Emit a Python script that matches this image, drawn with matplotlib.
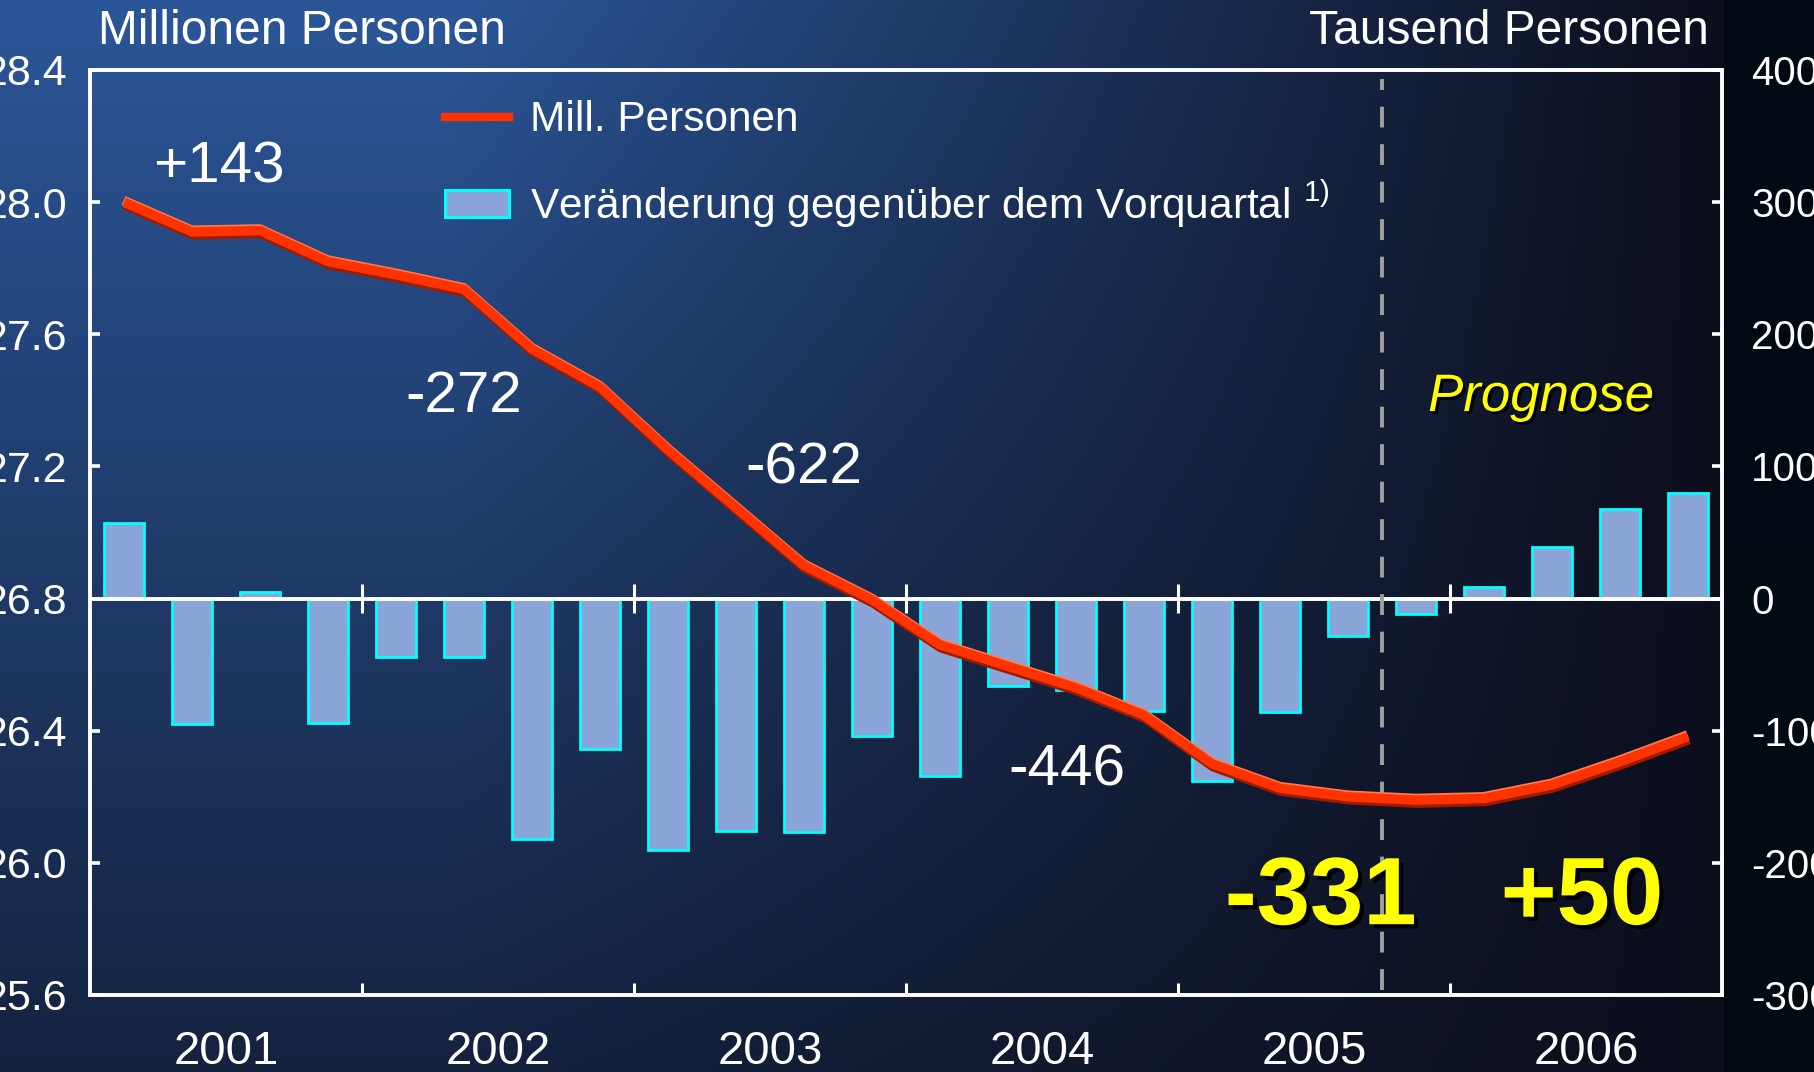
import numpy as np
import matplotlib
matplotlib.use("Agg")
import matplotlib.pyplot as plt
import matplotlib.patheffects as pe
from matplotlib.lines import Line2D
from matplotlib.patches import Patch
from matplotlib.ticker import MultipleLocator, FormatStrFormatter, FixedLocator

plt.rcParams['font.family'] = ['Liberation Sans', 'DejaVu Sans']
plt.rcParams['axes.unicode_minus'] = False
plt.rcParams['mathtext.fontset'] = 'custom'
plt.rcParams['mathtext.rm'] = 'Liberation Sans'
plt.rcParams['mathtext.it'] = 'Liberation Sans:italic'
plt.rcParams['lines.scale_dashes'] = False

# ---------------- data ----------------
years = ["2001", "2002", "2003", "2004", "2005", "2006"]
quarters_per_year = 4
# employed persons, millions (left axis)
persons_mill = [28.00, 27.91, 27.914, 27.82, 27.78, 27.736,
                27.555, 27.44, 27.25, 27.075, 26.90, 26.796,
                26.66, 26.595, 26.53, 26.447, 26.30, 26.226,
                26.20, 26.19, 26.195, 26.236, 26.306, 26.382]
# change vs previous quarter, thousand persons (right axis)
change_tsd = [57, -95, 5, -94, -44, -44,
              -182, -114, -190, -176, -177, -104,
              -134, -66, -69, -85, -138, -86,
              -28, -12, 9, 39, 68, 80]
forecast_start = 19  # quarter index where forecast begins
annual_labels = ["+143", "-272", "-622", "-446"]
annual_x = [1.90, 5.50, 10.49, 14.37]
annual_y = [28.104, 27.411, 27.193, 26.279]
forecast_labels = ["-331", "+50"]
forecast_x = [18.10, 21.94]
forecast_y = [25.89, 25.89]
legend_labels = ["Mill. Personen",
                 "Veränderung gegenüber dem Vorquartal $^{\\mathrm{1)}}$"]

n_q = len(change_tsd)
xq = np.arange(n_q) + 0.5

# ---------------- figure ----------------
W, H = 1814, 1072
fig = plt.figure(figsize=(W / 100, H / 100), dpi=100)

# background gradient
bg = fig.add_axes([0, 0, 1, 1], zorder=-10)
yy, xx = np.mgrid[0:H, 0:W]
fx = np.clip(1 - (xx - 450) / 1270.0, 0.0, 1.0)
fy = 1 - 0.72 * (yy / H)
f = fx * fy
light = np.array([43, 86, 152], float)
dark = np.array([12, 14, 28], float)
img = dark + (light - dark) * f[..., None]
strip_top = np.array([1, 10, 20], float)
strip_bot = np.array([3, 10, 18], float)
tt = (yy[:, 1724:] / H)[..., None]
img[:, 1724:] = strip_top + (strip_bot - strip_top) * tt
bg.imshow(img / 255.0, extent=[0, 1, 0, 1], aspect='auto', origin='upper')
bg.set_xlim(0, 1); bg.set_ylim(0, 1)
bg.axis('off')

L, R, T, B = 90, 1722, 70, 995
ax = fig.add_axes([L / W, 1 - B / H, (R - L) / W, (B - T) / H])
ax2 = ax.twinx()
ax.set_zorder(2)
ax2.set_zorder(1)
ax.patch.set_visible(False)
ax2.patch.set_visible(False)

# bars
ax2.bar(xq, change_tsd, width=0.6, color='#8CA5D8', edgecolor='#00FFFF',
        linewidth=2.0, zorder=2)
ax2.axhline(0, color='white', lw=2.8, zorder=3)
year_bounds = np.arange(quarters_per_year, n_q, quarters_per_year)
ax2.vlines(year_bounds, -11, 11, color='white', lw=2.2, zorder=3)
ax2.set_ylim(-300, 400)

# line
ax.plot(xq, persons_mill, color='#FF3300', lw=6.8, solid_capstyle='butt',
        solid_joinstyle='round', zorder=4,
        path_effects=[pe.SimpleLineShadow(offset=(0.8, -2.2), shadow_color='#A01A00', alpha=1),
                      pe.SimpleLineShadow(offset=(-0.3, 1.2), shadow_color='#FF7A55', alpha=1),
                      pe.Normal()])
ax.set_ylim(25.6, 28.4)
ax.set_xlim(0, n_q)

# forecast divider
ax.axvline(forecast_start, ymin=0.005, ymax=0.99, color='#A0A0A0', lw=2.8,
           dashes=(15, 12), zorder=3)

# spines
for a in (ax, ax2):
    for s in a.spines.values():
        s.set_color('white')
        s.set_linewidth(2.6)

# ticks
ax.yaxis.set_major_locator(MultipleLocator(0.4))
ax.yaxis.set_major_formatter(FormatStrFormatter('%.1f'))
ax.tick_params(axis='y', direction='in', length=7, width=2.6, colors='white',
               labelsize=31, pad=16)
ax2.yaxis.set_major_locator(MultipleLocator(100))
ax2.yaxis.set_major_formatter(FormatStrFormatter('%d'))
ax2.tick_params(axis='y', direction='in', length=7, width=2.6, colors='white',
                labelsize=29, pad=21)

year_centers = np.arange(n_q // quarters_per_year) * quarters_per_year + quarters_per_year / 2
ax.xaxis.set_major_locator(FixedLocator(year_bounds))
ax.set_xticks(year_centers, minor=True)
ax.set_xticklabels(years, minor=True)
ax.tick_params(axis='x', which='major', direction='in', length=9, width=2.2,
               colors='white', labelbottom=False)
ax.tick_params(axis='x', which='minor', length=0, colors='white',
               labelsize=34, pad=25)

# texts
fig.text(98 / W, 1 - 31 / H, "Millionen Personen", color='white', fontsize=34.5,
         ha='left', va='center')
fig.text(1709 / W, 1 - 31 / H, "Tausend Personen", color='white', fontsize=34.5,
         ha='right', va='center')

for lab, x, y in zip(annual_labels, annual_x, annual_y):
    ax.text(x, y, lab, color='white', fontsize=42, ha='center', va='center', zorder=5)

shadow = [pe.withSimplePatchShadow(offset=(3, -3), shadow_rgbFace='black', alpha=1)]
for lab, x, y in zip(forecast_labels, forecast_x, forecast_y):
    ax.text(x, y, lab, color='#FFFF00', fontsize=69, fontweight='bold',
            ha='center', va='center', zorder=5, path_effects=shadow)

ax.text(21.34, 27.41, "Prognose", color='#FFFF00', fontsize=38, fontstyle='italic',
        ha='center', va='center', zorder=5,
        path_effects=[pe.withSimplePatchShadow(offset=(2, -2), shadow_rgbFace='black', alpha=1)])

handles = [Line2D([], [], color='#FF3300', lw=6),
           Patch(facecolor='#8CA5D8', edgecolor='#00FFFF', linewidth=2.2)]
leg = ax.legend(handles, legend_labels, loc='upper left',
                bbox_to_anchor=(445 / W, 1 - 100 / H), bbox_transform=fig.transFigure,
                frameon=False, fontsize=30.5, handlelength=1.5, handleheight=0.6,
                handletextpad=0.5, labelspacing=0.9, borderpad=0, borderaxespad=0,
                labelcolor='white')

fig.savefig("out.png", dpi=100)
